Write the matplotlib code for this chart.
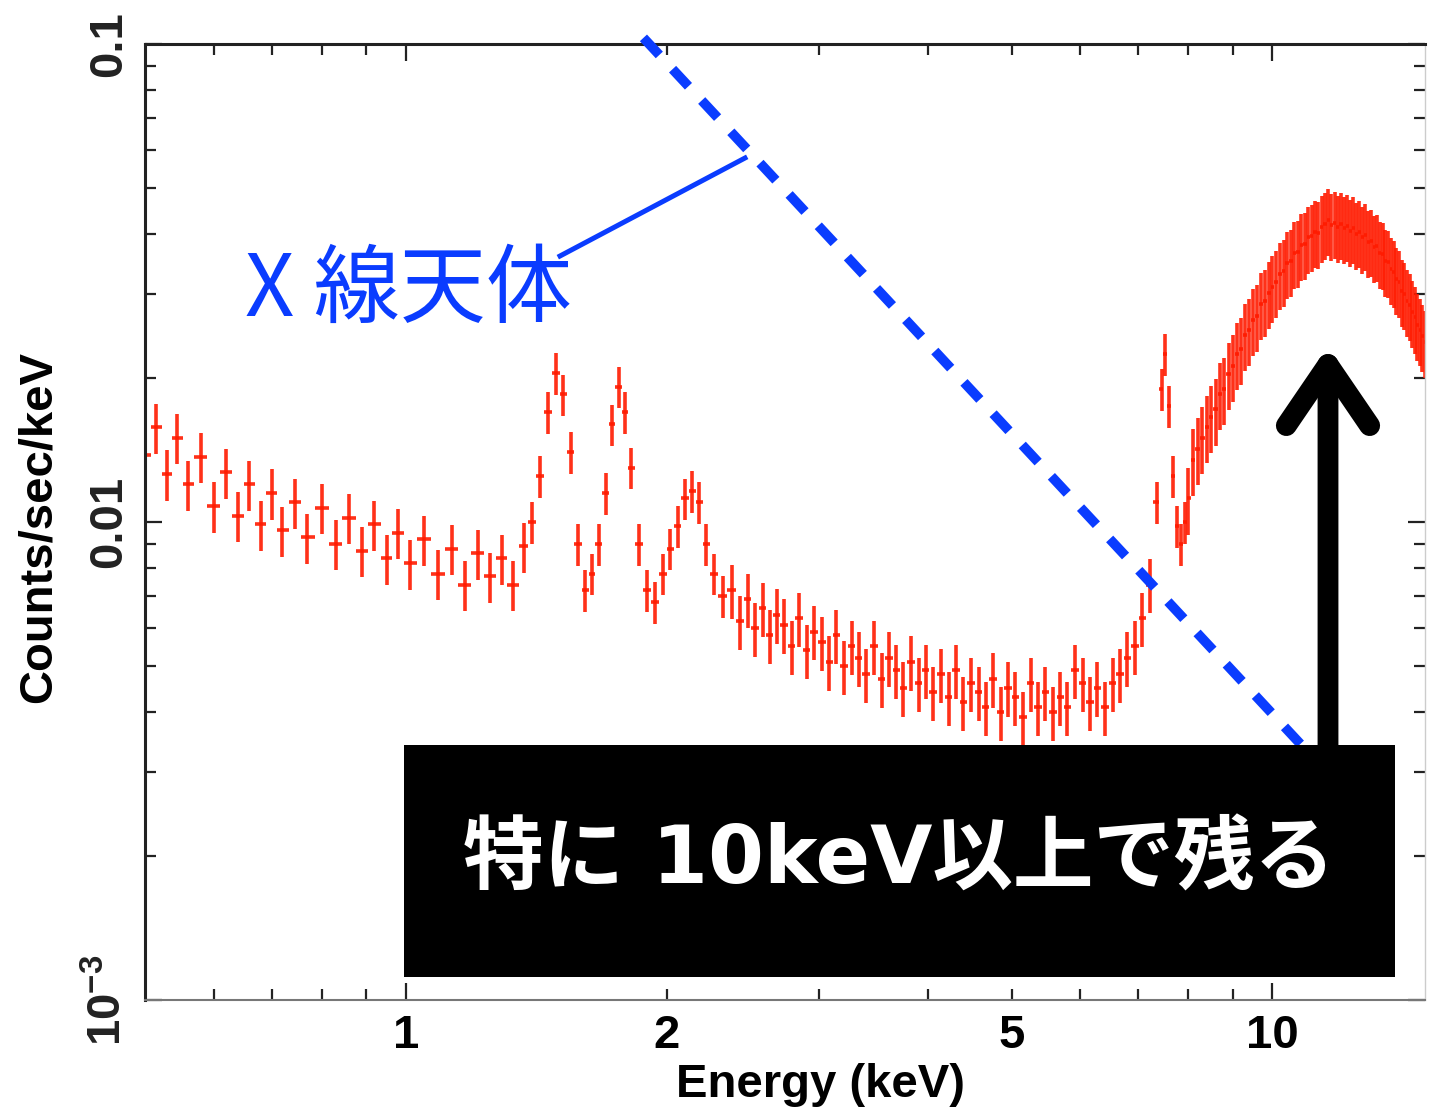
import numpy as np
import matplotlib.pyplot as plt
from matplotlib.patches import Rectangle
from matplotlib.lines import Line2D
from matplotlib.ticker import FixedLocator, NullFormatter

plt.rcParams['font.family'] = ['Liberation Sans', 'DejaVu Sans']
plt.rcParams['font.weight'] = 'bold'
plt.rcParams['axes.labelweight'] = 'bold'
plt.rcParams['mathtext.fontset'] = 'custom'
plt.rcParams['mathtext.rm'] = 'Liberation Sans:bold'

# spectrum (keV, counts/sec/keV)
e_soft = [0.50, 0.515, 0.53, 0.545, 0.56, 0.58, 0.60, 0.62, 0.64, 0.66, 0.68,
          0.70, 0.72, 0.745, 0.77, 0.80, 0.83, 0.86, 0.89, 0.92, 0.95, 0.98,
          1.01, 1.05, 1.09, 1.13, 1.17, 1.21, 1.25, 1.29, 1.33, 1.37]
c_soft = [0.0138, 0.0158, 0.0126, 0.0150, 0.0120, 0.0137, 0.0108, 0.0127,
          0.0103, 0.0120, 0.0099, 0.0115, 0.0096, 0.0110, 0.0093, 0.0107,
          0.0090, 0.0102, 0.0087, 0.0099, 0.0084, 0.0095, 0.0082, 0.0092,
          0.0078, 0.0088, 0.0074, 0.0086, 0.0077, 0.0084, 0.0074, 0.0089]

e_lines = [1.40, 1.43, 1.46, 1.49, 1.52, 1.55, 1.58, 1.61, 1.64, 1.67, 1.70,
           1.73, 1.76, 1.79, 1.82, 1.86, 1.90, 1.94, 1.98, 2.02, 2.06, 2.10,
           2.14, 2.18, 2.22, 2.27, 2.32]
c_lines = [0.0100, 0.0125, 0.0170, 0.0205, 0.0185, 0.0140, 0.0090, 0.0072,
           0.0078, 0.0090, 0.0115, 0.0160, 0.0192, 0.0170, 0.0130, 0.0090,
           0.0072, 0.0068, 0.0078, 0.0088, 0.0098, 0.0112, 0.0116, 0.0110,
           0.0090, 0.0078, 0.0070]

e_cont = [2.38, 2.43, 2.48, 2.53, 2.58, 2.63, 2.68, 2.73, 2.79, 2.84, 2.90,
          2.96, 3.02, 3.08, 3.14, 3.20, 3.27, 3.33, 3.40, 3.47, 3.54, 3.61,
          3.68, 3.75, 3.83, 3.91, 3.98, 4.06, 4.14, 4.23, 4.31, 4.40, 4.49,
          4.58, 4.67, 4.76, 4.86, 4.95, 5.05, 5.15, 5.26, 5.36, 5.47, 5.58,
          5.69, 5.80, 5.92, 6.04, 6.16, 6.28, 6.41, 6.54, 6.67, 6.80, 6.94,
          7.08, 7.22]
c_cont = [0.0072, 0.0062, 0.0069, 0.0060, 0.0066, 0.0058, 0.0064, 0.0061,
          0.0055, 0.0063, 0.0054, 0.0059, 0.0056, 0.0051, 0.0058, 0.0050,
          0.0055, 0.0052, 0.0048, 0.0055, 0.0047, 0.0052, 0.0049, 0.0045,
          0.0051, 0.0046, 0.0049, 0.0044, 0.0048, 0.0043, 0.0049, 0.0042,
          0.0046, 0.0044, 0.0041, 0.0047, 0.0040, 0.0045, 0.0043, 0.0039,
          0.0046, 0.0041, 0.0044, 0.0040, 0.0043, 0.0041, 0.0049, 0.0046,
          0.0042, 0.0045, 0.0041, 0.0046, 0.0048, 0.0052, 0.0055, 0.0063,
          0.0074]

e_fe = [7.35, 7.45, 7.52, 7.60, 7.68, 7.76, 7.84, 7.92]
c_fe = [0.0110, 0.0190, 0.0225, 0.0175, 0.0125, 0.0098, 0.0090, 0.0100]

e_hard = [8.0, 8.1, 8.2, 8.3, 8.4, 8.5, 8.6, 8.7, 8.8, 8.9, 9.0, 9.1, 9.2,
          9.3, 9.4, 9.5, 9.6, 9.7, 9.8, 9.9, 10.0, 10.1, 10.2, 10.3, 10.4,
          10.5, 10.6, 10.7, 10.8, 10.9, 11.0, 11.1, 11.2, 11.3, 11.4, 11.5,
          11.6, 11.7, 11.8, 11.9, 12.0, 12.1, 12.2, 12.3, 12.4, 12.5, 12.6,
          12.7, 12.8, 12.9, 13.0, 13.1, 13.2, 13.3, 13.4, 13.5, 13.6, 13.7,
          13.8, 13.9, 14.0, 14.1, 14.2, 14.3, 14.4, 14.5, 14.6, 14.7, 14.8,
          14.9, 15.0]
c_hard = [0.0112, 0.0135, 0.0142, 0.0150, 0.0158, 0.0166, 0.0172, 0.0185,
          0.0190, 0.0204, 0.0212, 0.0225, 0.0230, 0.0246, 0.0252, 0.0265,
          0.0270, 0.0286, 0.0290, 0.0302, 0.0310, 0.0318, 0.0330, 0.0335,
          0.0348, 0.0352, 0.0365, 0.0368, 0.0380, 0.0382, 0.0394, 0.0396,
          0.0405, 0.0402, 0.0415, 0.0420, 0.0428, 0.0418, 0.0422, 0.0414,
          0.0420, 0.0412, 0.0416, 0.0406, 0.0412, 0.0400, 0.0404, 0.0394,
          0.0398, 0.0386, 0.0388, 0.0376, 0.0378, 0.0365, 0.0364, 0.0352,
          0.0350, 0.0338, 0.0334, 0.0322, 0.0318, 0.0305, 0.0300, 0.0290,
          0.0285, 0.0275, 0.0268, 0.0258, 0.0252, 0.0245, 0.0238]

# relative error of each segment
err_soft, err_lines, err_cont, err_fe, err_hard = 0.12, 0.10, 0.13, 0.10, 0.16

# dashed power-law of the X-ray source
src_energy = [1.88, 14.0]
src_counts = [0.103, 0.00206]

red = '#ff1a00'
blue = '#0a3cff'

fig = plt.figure(figsize=(14.48, 11.17), dpi=100)
ax = fig.add_axes([145 / 1448, 1 - 1000 / 1117, 1280 / 1448, 956 / 1117])

energy = np.array(e_soft + e_lines + e_cont + e_fe + e_hard)
counts = np.array(c_soft + c_lines + c_cont + c_fe + c_hard)
rel = np.concatenate([np.full(len(e_soft), err_soft), np.full(len(e_lines), err_lines),
                      np.full(len(e_cont), err_cont), np.full(len(e_fe), err_fe),
                      np.full(len(e_hard), err_hard)])

edges = np.sqrt(energy[:-1] * energy[1:])
lo = np.concatenate([[energy[0]], edges])
hi = np.concatenate([edges, [energy[-1]]])
xerr = [energy - lo, hi - energy]
yerr = [counts * rel, counts * rel]

ax.errorbar(energy, counts, xerr=xerr, yerr=yerr, fmt='none', ecolor=red,
            elinewidth=2.6, alpha=0.9, zorder=2)

ax.plot(src_energy, src_counts, color=blue, lw=7, dashes=(2.4, 2.0),
        solid_capstyle='butt', dash_capstyle='butt', clip_on=False, zorder=3)

ax.set_xscale('log')
ax.set_yscale('log')
ax.set_xlim(0.5, 15)
ax.set_ylim(1e-3, 0.1)

ax.xaxis.set_major_locator(FixedLocator([1, 10]))
ax.xaxis.set_minor_locator(FixedLocator([0.6, 0.7, 0.8, 0.9, 2, 3, 4, 5, 6, 7, 8, 9]))
ax.xaxis.set_major_formatter(NullFormatter())
ax.xaxis.set_minor_formatter(NullFormatter())
for x, lab in [(1, '1'), (2, '2'), (5, '5'), (10, '10')]:
    ax.annotate(lab, xy=(x, 0), xycoords=('data', 'axes fraction'), xytext=(0, -10),
                textcoords='offset points', ha='center', va='top', fontsize=34)

ax.set_yticks([1e-3, 1e-2, 1e-1])
ax.set_yticklabels(['10$^{-3}$', '0.01', '0.1'], fontsize=34, rotation=90, va='center')
ax.yaxis.set_minor_locator(FixedLocator([k * 10.0 ** p for p in (-3, -2) for k in range(2, 10)]))
ax.yaxis.set_minor_formatter(NullFormatter())

ax.tick_params(which='both', direction='in', top=True, right=True, width=1.6, colors='#222222')
ax.tick_params(which='major', length=12)
ax.tick_params(which='minor', length=8)
ax.tick_params(axis='y', pad=10)

for s in ['left', 'top']:
    ax.spines[s].set_linewidth(2.2)
    ax.spines[s].set_color('#222222')
ax.spines['bottom'].set_linewidth(1.5)
ax.spines['bottom'].set_color('#777777')
ax.spines['right'].set_linewidth(1)
ax.spines['right'].set_color('#cccccc')

ax.set_xlabel('Energy (keV)', fontsize=34)
ax.xaxis.set_label_coords((821 - 145) / 1280, -0.066)
ax.set_ylabel('Counts/sec/keV', fontsize=34)
ax.yaxis.set_label_coords(-0.066, 0.495)

# annotations
fig.text(245 / 1448, 1 - 292 / 1117, 'X 線天体', fontsize=62, color=blue,
         family=['Noto Sans CJK JP'], weight='normal', va='center', ha='left')
fig.add_artist(Line2D([560 / 1448, 745 / 1448], [1 - 256 / 1117, 1 - 158 / 1117],
                      transform=fig.transFigure, lw=3.6, color=blue))

ax.annotate('', xy=(1328, 1117 - 346), xycoords='figure pixels',
            xytext=(1328, 1117 - 750), textcoords='figure pixels',
            arrowprops=dict(arrowstyle='->,head_length=44,head_width=30',
                            mutation_scale=1, lw=15, color='black',
                            shrinkA=0, shrinkB=0))

fig.add_artist(Rectangle((404 / 1448, 1 - 977 / 1117), 991 / 1448, 232 / 1117,
                         transform=fig.transFigure, facecolor='black',
                         edgecolor='none', zorder=5))
fig.text(899 / 1448, 1 - 862 / 1117, '特に 10keV以上で残る', fontsize=58,
         color='white', weight='bold', family=['DejaVu Sans', 'Noto Sans CJK JP'],
         ha='center', va='center', zorder=6)

fig.savefig('out.png', dpi=100)
